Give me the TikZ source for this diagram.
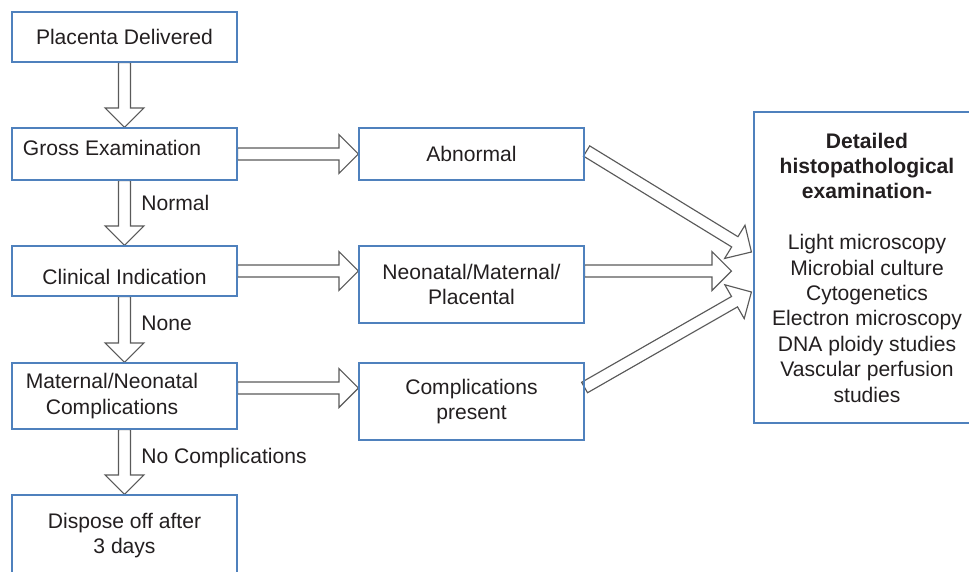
\documentclass[tikz,border=0pt]{standalone}
\usepackage{fontspec}
\setmainfont{Liberation Sans}
\usepackage{xcolor}
\usepackage{tikz}
\usetikzlibrary{calc, backgrounds}

\definecolor{boxblue}{RGB}{79,129,189}
\definecolor{arrowgray}{RGB}{90,90,90}
\definecolor{textgray}{RGB}{35,31,32}

\tikzset{
	every node/.append style={
		font=\fontsize{12}{14.45}\selectfont,
		text=textgray
	},
	box/.style={
		rectangle,
		draw=boxblue,
		line width=0.65pt,
		align=center,
		minimum width=4.5cm,
		minimum height=1cm,
		inner sep=0pt
	},
	hollowarrow/.style={
		draw=arrowgray,
		fill=white,
		line width=0.65pt,
		line join=miter
	},
	lbl/.style={
		anchor=base west,
		inner sep=0pt
	}
}

% Blockpfeil von #1 nach #2
\newcommand{\blockarrow}[2]{%
	\draw[hollowarrow]
		($(#1)!0.12cm!90:(#2)$) --
		($(#2)!0.39cm!(#1)!0.12cm!90:(#2)$) --
		($(#2)!0.39cm!(#1)!0.39cm!90:(#2)$) --
		(#2) --
		($(#2)!0.39cm!(#1)!0.39cm!-90:(#2)$) --
		($(#2)!0.39cm!(#1)!0.12cm!-90:(#2)$) --
		($(#1)!0.12cm!-90:(#2)$) -- cycle;}

\begin{document}
\begin{tikzpicture}
	\useasboundingbox (0,0) rectangle (19.38,11.42);

	% linke Spalte
	\node[box] (placenta) at (2.49,10.68) {Placenta Delivered};
	\node[
		box,
		minimum height=1.04cm,
		label={[xshift=-0.25cm,yshift=0.12cm]center:Gross Examination}
	] (gross) at (2.49,8.34) {};
	\node[
		box,
		label={[yshift=-0.12cm]center:Clinical Indication}
	] (clinical) at (2.49,6.0) {};
	\node[
		box,
		minimum height=1.32cm,
		label={[xshift=-0.25cm,align=center]center:Maternal/Neonatal\\Complications}
	] (maternal) at (2.49,3.5) {};
	\node[box, minimum height=1.62cm] (dispose) at (2.49,0.71)
		{Dispose off after\\3 days};

	% mittlere Spalte
	\node[box, minimum height=1.04cm] (abnormal) at (9.43,8.34) {Abnormal};
	\node[box, minimum height=1.54cm] (neonatal) at (9.43,5.73)
		{Neonatal/Maternal/\\Placental};
	\node[box, minimum height=1.54cm] (complications) at (9.43,3.39)
		{Complications\\present};

	% rechter Kasten
	\node[box, minimum width=4.52cm, minimum height=6.22cm] (detail) at (17.34,6.07)
		{\textbf{Detailed}\\\textbf{histopathological}\\\textbf{examination-}\\[14.45pt]
		Light microscopy\\Microbial culture\\Cytogenetics\\Electron microscopy\\
		DNA ploidy studies\\Vascular perfusion\\studies};

	% Beschriftung
	\node[lbl] (normal) at ($(gross.south)!0.5!(clinical.north)+(0.33,0.05)$) {Normal};
	\node[lbl] (none) at ($(clinical.south)!0.5!(maternal.north)+(0.33,-0.02)$) {None};
	\node[lbl] (nocompl) at ($(maternal.south)!0.5!(dispose.north)+(0.33,-0.03)$)
		{No Complications};

	% Hilfspunkte
	\coordinate (matout) at ($(maternal.east)+(0,0.16)$);
	\coordinate (compin) at (complications.west |- matout);
	\coordinate (clinin) at (neonatal.west |- clinical.east);
	\coordinate (neoout) at (neonatal.east |- clinical.east);
	\coordinate (neotip) at ($(detail.west |- clinical.east)+(-0.44,0)$);
	\coordinate (abnout) at ($(abnormal.east)+(0.04,0.06)$);
	\coordinate (tipone) at ($(detail.west)+(-0.04,0.31)$);
	\coordinate (compout) at ($(complications.east)+(0,0.28)$);
	\coordinate (tipthree) at ($(detail.west)+(-0.04,-0.49)$);

	% Pfeile
	\begin{pgfonlayer}{background}
		\blockarrow{placenta.south}{gross.north}
		\blockarrow{gross.south}{clinical.north}
		\blockarrow{clinical.south}{maternal.north}
		\blockarrow{maternal.south}{dispose.north}
		\blockarrow{gross.east}{abnormal.west}
		\blockarrow{clinical.east}{clinin}
		\blockarrow{matout}{compin}
		\blockarrow{abnout}{tipone}
		\blockarrow{neoout}{neotip}
		\blockarrow{compout}{tipthree}
	\end{pgfonlayer}
\end{tikzpicture}
\end{document}
